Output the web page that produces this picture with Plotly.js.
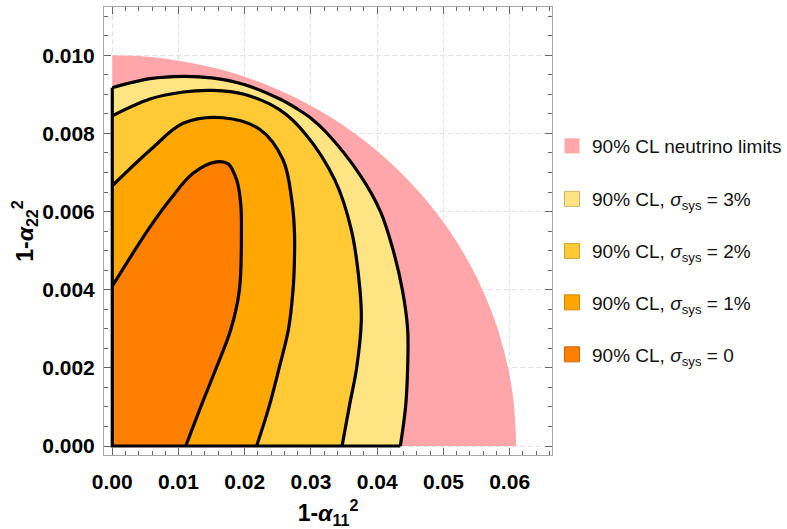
<!DOCTYPE html>
<html>
<head>
<meta charset="utf-8">
<script src="https://cdn.plot.ly/plotly-3.0.1.min.js"></script>
<style>html,body{margin:0;padding:0;background:#fff;}#chart{width:787px;height:529px;}</style>
</head>
<body>
<div id="chart"></div>
<script>
// ---- data ----
// 90% CL neutrino limits (outer pink boundary)
const pinkX = [0, 0.0050, 0.0100, 0.0150, 0.0200, 0.0253, 0.0300, 0.0345, 0.0370, 0.0394, 0.0430, 0.0465, 0.0491, 0.0515, 0.0540, 0.0556, 0.0570, 0.0581, 0.0597, 0.0606, 0.0610];
const pinkY = [0.0100, 0.00997, 0.00986, 0.00969, 0.00945, 0.00910, 0.00871, 0.00825, 0.00795, 0.00763, 0.00709, 0.00647, 0.00593, 0.00536, 0.00465, 0.00411, 0.00356, 0.00305, 0.00205, 0.00114, 0];
// sigma_sys = 3%
const s3X = [0, 0.0057, 0.0107, 0.0150, 0.0199, 0.0253, 0.0280, 0.0300, 0.0323, 0.0374, 0.0405, 0.0424, 0.0438, 0.0446, 0.0446, 0.0443, 0.0435];
const s3Y = [0.00917, 0.00940, 0.00946, 0.00942, 0.00925, 0.00888, 0.00862, 0.00839, 0.00803, 0.00694, 0.00600, 0.00502, 0.00400, 0.00300, 0.00200, 0.00102, 0];
// sigma_sys = 2%
const s2X = [0, 0.0057, 0.0107, 0.0152, 0.0199, 0.0253, 0.0291, 0.0336, 0.0361, 0.0374, 0.0376, 0.0369, 0.0358, 0.0347];
const s2Y = [0.00845, 0.00888, 0.00906, 0.00910, 0.00900, 0.00860, 0.00800, 0.00681, 0.00553, 0.00400, 0.00320, 0.00200, 0.00102, 0];
// sigma_sys = 1%
const s1X = [0, 0.0059, 0.0107, 0.0167, 0.0223, 0.0258, 0.0271, 0.0275, 0.0275, 0.0273, 0.0266, 0.0252, 0.0237, 0.0218];
const s1Y = [0.00666, 0.00760, 0.00826, 0.00840, 0.00810, 0.00732, 0.00630, 0.00553, 0.00470, 0.00400, 0.00298, 0.00200, 0.00102, 0];
// sigma_sys = 0
const s0X = [0, 0.0054, 0.0087, 0.0122, 0.0157, 0.0175, 0.0188, 0.0194, 0.0195, 0.0192, 0.0179, 0.0157, 0.0134, 0.0111];
const s0Y = [0.00409, 0.00553, 0.00630, 0.00698, 0.00727, 0.00722, 0.00680, 0.00620, 0.00553, 0.00400, 0.00298, 0.00200, 0.00102, 0];

const legendNames = [
  '90% CL neutrino limits',
  '90% CL, <i>σ</i><sub>sys</sub> = 3%',
  '90% CL, <i>σ</i><sub>sys</sub> = 2%',
  '90% CL, <i>σ</i><sub>sys</sub> = 1%',
  '90% CL, <i>σ</i><sub>sys</sub> = 0'
];
const xTicks = [0, 0.01, 0.02, 0.03, 0.04, 0.05, 0.06];
const yTicks = [0, 0.002, 0.004, 0.006, 0.008, 0.010];

// ---- styles ----
const colors = ['#FFA6AA', '#FFE484', '#FFCA36', '#FFA600', '#FF8000'];
const legendBorder = ['rgba(0,0,0,0)', '#CDB56A', '#CFA22C', '#CC8500', '#CC6600'];
const FONT = 'Liberation Sans, Arial, Helvetica, sans-serif';
const LW = 3.2;

const traces = [];
function region(xs, ys, fill, outlined) {
  const n = xs.length - 1;
  traces.push({
    x: [xs[0], 0, xs[n]], y: [ys[0], 0, ys[n]],
    mode: 'lines', line: {width: 0, color: 'rgba(0,0,0,0)', simplify: false},
    showlegend: false, hoverinfo: 'skip'
  });
  traces.push({
    x: xs, y: ys, mode: 'lines',
    line: {shape: 'spline', smoothing: 1, simplify: false, width: outlined ? LW : 0, color: outlined ? '#000' : 'rgba(0,0,0,0)'},
    fill: 'tonexty', fillcolor: fill,
    showlegend: false, hoverinfo: 'skip'
  });
}
region(pinkX, pinkY, colors[0], false);
region(s3X, s3Y, colors[1], true);
region(s2X, s2Y, colors[2], true);
region(s1X, s1Y, colors[3], true);
region(s0X, s0Y, colors[4], true);
// black edges along the axes
traces.push({
  x: [s3X[0], 0, s3X[s3X.length - 1]], y: [s3Y[0], 0, s3Y[s3Y.length - 1]],
  mode: 'lines', line: {width: LW, color: '#000', simplify: false}, showlegend: false, hoverinfo: 'skip'
});

// legend entries
const legendCenters = [146, 199, 251, 302.5, 354.5];
const layoutLegends = {};
legendNames.forEach((nm, i) => {
  const key = i === 0 ? 'legend' : 'legend' + (i + 1);
  traces.push({
    x: [null], y: [null], mode: 'markers', name: nm,
    marker: {symbol: 'square', size: 15, color: colors[i], line: {width: 1, color: legendBorder[i]}},
    legend: key, hoverinfo: 'skip'
  });
  layoutLegends[key] = {
    xref: 'container', yref: 'container',
    x: 552 / 787, y: 1 - legendCenters[i] / 529,
    xanchor: 'left', yanchor: 'middle',
    bgcolor: 'rgba(0,0,0,0)', borderwidth: 0,
    font: {family: FONT, size: 19, color: '#111'}
  };
});

const axisCommon = {
  showline: true, linecolor: '#a8a8a8', linewidth: 1, mirror: 'allticks',
  ticks: 'inside', ticklen: 7, tickwidth: 1, tickcolor: '#666',
  showgrid: true, gridcolor: '#e2e2e2', gridwidth: 1, griddash: '5px,3px',
  zeroline: false,
  tickfont: {family: FONT, size: 21, color: '#000', weight: 'bold'},
  fixedrange: true
};

const layout = Object.assign({
  width: 787, height: 529,
  margin: {l: 104, r: 235.3, t: 7, b: 73.5, pad: 0},
  paper_bgcolor: '#fff', plot_bgcolor: '#fff',
  showlegend: true,
  xaxis: Object.assign({}, axisCommon, {
    range: [-0.00125, 0.0664],
    tickvals: xTicks, tickformat: '.2f',
    ticklabelstandoff: 8,
    minor: {dtick: 0.002, tick0: 0, ticks: 'inside', ticklen: 4, tickcolor: '#666', tickwidth: 1, showgrid: false},
    title: {text: '1-<i>α</i><sub>11</sub><sup>2</sup>', standoff: 14,
            font: {family: FONT, size: 23, color: '#000', weight: 'bold'}}
  }),
  yaxis: Object.assign({}, axisCommon, {
    range: [-0.00023, 0.011235],
    tickvals: yTicks, tickformat: '.3f',
    ticklabelstandoff: 4,
    minor: {dtick: 0.0005, tick0: 0, ticks: 'inside', ticklen: 4, tickcolor: '#666', tickwidth: 1, showgrid: false},
    title: {text: '1-<i>α</i><sub>22</sub><sup>2</sup>', standoff: 2,
            font: {family: FONT, size: 23, color: '#000', weight: 'bold'}}
  })
}, layoutLegends);

Plotly.newPlot('chart', traces, layout, {staticPlot: true, displayModeBar: false});
</script>
</body>
</html>
